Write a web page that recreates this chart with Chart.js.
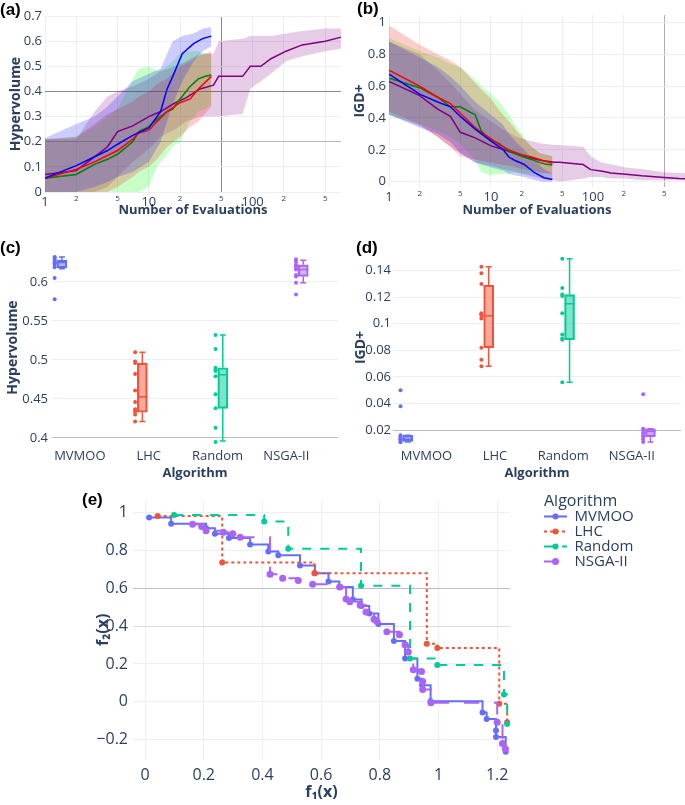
<!DOCTYPE html>
<html>
<head>
<meta charset="utf-8">
<script src="https://cdn.jsdelivr.net/npm/chart.js@4.4.1/dist/chart.umd.min.js"></script>
<style>
  html, body { margin: 0; padding: 0; background: #fff; }
  #wrap { position: relative; width: 685px; height: 805px; overflow: hidden; }
  canvas { position: absolute; }
  .tag { position: absolute; font: bold 17px 'Liberation Sans', Arial, sans-serif; line-height: 17px; color: #000; }
</style>
</head>
<body>
<div id="wrap">
  <canvas id="hvTrace" width="342" height="222" style="left:0;top:0"></canvas>
  <canvas id="igdTrace" width="343" height="222" style="left:342px;top:0"></canvas>
  <canvas id="hvBox" width="342" height="256" style="left:0;top:226px"></canvas>
  <canvas id="igdBox" width="343" height="256" style="left:342px;top:226px"></canvas>
  <canvas id="front" width="685" height="320" style="left:0;top:485px"></canvas>
  <div class="tag" style="left:0;top:1px">(a)</div>
  <div class="tag" style="left:357px;top:0">(b)</div>
  <div class="tag" style="left:0;top:239px">(c)</div>
  <div class="tag" style="left:356px;top:239px">(d)</div>
  <div class="tag" style="left:82px;top:491px">(e)</div>
</div>
<script>
// =================== data ===================
const ALGORITHMS = ['MVMOO', 'LHC', 'Random', 'NSGA-II'];

// (a)/(b) convergence: evaluation counts per algorithm
const MVMOO_N = [1, 2, 3, 4, 5, 7, 10, 13, 15, 17, 21, 27, 33, 40];
const LHC_N = [1, 2, 3, 4, 5, 7, 8, 10, 12, 15, 20, 25, 30, 40];
const RANDOM_N = [1, 2, 3, 4, 5, 7, 8, 10, 12, 15, 17, 20, 25, 30, 35, 40];
const NSGA_N = [1, 2, 3, 4, 5, 7, 10, 13, 18, 23, 31, 42, 47, 80, 95, 120, 150, 210, 300, 500, 700, 1000];

// hypervolume mean / lower / upper
const HV_MVMOO = [0.055, 0.105, 0.14, 0.165, 0.19, 0.225, 0.255, 0.32, 0.41, 0.46, 0.55, 0.59, 0.61, 0.62];
const HV_MVMOO_LO = [0, 0, 0.02, 0.04, 0.06, 0.08, 0.12, 0.2, 0.28, 0.35, 0.44, 0.52, 0.56, 0.58];
const HV_MVMOO_HI = [0.215, 0.27, 0.3, 0.34, 0.38, 0.44, 0.47, 0.49, 0.55, 0.6, 0.62, 0.63, 0.65, 0.655];
const HV_LHC = [0.055, 0.09, 0.12, 0.145, 0.165, 0.21, 0.235, 0.245, 0.28, 0.32, 0.355, 0.37, 0.41, 0.46];
const HV_LHC_LO = [0, 0, 0, 0, 0.02, 0.06, 0.08, 0.1, 0.13, 0.18, 0.22, 0.26, 0.28, 0.34];
const HV_LHC_HI = [0.21, 0.22, 0.27, 0.31, 0.33, 0.36, 0.38, 0.4, 0.43, 0.45, 0.5, 0.52, 0.54, 0.56];
const HV_RANDOM = [0.055, 0.07, 0.11, 0.13, 0.15, 0.2, 0.24, 0.26, 0.29, 0.32, 0.33, 0.37, 0.42, 0.45, 0.46, 0.465];
const HV_RANDOM_LO = [0, 0, 0, 0, 0, 0, 0, 0.02, 0.1, 0.15, 0.18, 0.2, 0.28, 0.32, 0.33, 0.35];
const HV_RANDOM_HI = [0.21, 0.22, 0.26, 0.3, 0.33, 0.45, 0.49, 0.5, 0.48, 0.5, 0.52, 0.55, 0.56, 0.56, 0.55, 0.55];
const HV_NSGA = [0.07, 0.085, 0.14, 0.18, 0.24, 0.263, 0.3, 0.32, 0.355, 0.375, 0.41, 0.425, 0.46, 0.46, 0.5, 0.5, 0.53, 0.56, 0.585, 0.6, 0.615, 0.63];
const HV_NSGA_LO = [0, 0, 0, 0.02, 0.06, 0.12, 0.17, 0.22, 0.25, 0.28, 0.3, 0.3, 0.3, 0.31, 0.41, 0.44, 0.47, 0.52, 0.54, 0.56, 0.57, 0.58];
const HV_NSGA_HI = [0.21, 0.21, 0.32, 0.38, 0.4, 0.42, 0.45, 0.48, 0.5, 0.52, 0.55, 0.55, 0.6, 0.61, 0.62, 0.62, 0.62, 0.63, 0.64, 0.65, 0.65, 0.65];

// IGD+ mean / lower / upper
const IGD_MVMOO = [0.675, 0.55, 0.5, 0.47, 0.41, 0.33, 0.255, 0.205, 0.155, 0.135, 0.11, 0.055, 0.025, 0.014];
const IGD_MVMOO_LO = [0.42, 0.34, 0.3, 0.25, 0.18, 0.12, 0.09, 0.07, 0.05, 0.04, 0.03, 0.01, 0, 0];
const IGD_MVMOO_HI = [0.88, 0.78, 0.72, 0.66, 0.6, 0.5, 0.42, 0.36, 0.3, 0.26, 0.2, 0.13, 0.08, 0.05];
const IGD_LHC = [0.7, 0.6, 0.53, 0.49, 0.43, 0.34, 0.31, 0.27, 0.235, 0.2, 0.17, 0.155, 0.14, 0.115];
const IGD_LHC_LO = [0.44, 0.36, 0.28, 0.22, 0.16, 0.14, 0.13, 0.12, 0.11, 0.1, 0.08, 0.07, 0.06, 0.05];
const IGD_LHC_HI = [0.98, 0.86, 0.8, 0.76, 0.72, 0.62, 0.58, 0.52, 0.45, 0.38, 0.28, 0.22, 0.18, 0.16];
const IGD_RANDOM = [0.65, 0.59, 0.53, 0.47, 0.47, 0.42, 0.32, 0.26, 0.24, 0.19, 0.18, 0.16, 0.14, 0.12, 0.11, 0.105];
const IGD_RANDOM_LO = [0.42, 0.36, 0.32, 0.28, 0.24, 0.14, 0.06, 0.04, 0.05, 0.05, 0.06, 0.05, 0.05, 0.05, 0.05, 0.05];
const IGD_RANDOM_HI = [0.9, 0.82, 0.78, 0.74, 0.72, 0.64, 0.6, 0.55, 0.5, 0.42, 0.36, 0.3, 0.22, 0.18, 0.17, 0.16];
const IGD_NSGA = [0.63, 0.54, 0.455, 0.41, 0.31, 0.275, 0.225, 0.204, 0.173, 0.153, 0.133, 0.122, 0.122, 0.108, 0.076, 0.067, 0.055, 0.047, 0.037, 0.027, 0.02, 0.016];
const IGD_NSGA_LO = [0.42, 0.35, 0.28, 0.22, 0.18, 0.12, 0.1, 0.08, 0.06, 0.04, 0.02, 0.01, 0, 0.02, 0.03, 0.03, 0.02, 0.02, 0.01, 0.01, 0.01, 0.01];
const IGD_NSGA_HI = [0.88, 0.8, 0.7, 0.62, 0.55, 0.45, 0.38, 0.33, 0.28, 0.26, 0.24, 0.23, 0.23, 0.22, 0.16, 0.12, 0.11, 0.09, 0.08, 0.06, 0.055, 0.05];

const LOG_TICKS = [1, 2, 5, 10, 20, 50, 100, 200, 500];
const LOG_TICK_LABELS = ['1', '2', '5', '10', '2', '5', '100', '2', '5'];

// (c) final hypervolume per run, and box statistics
const HV_RUNS = [
  [0.632, 0.631, 0.629, 0.627, 0.625, 0.624, 0.622, 0.619, 0.605, 0.578],
  [0.51, 0.498, 0.496, 0.482, 0.461, 0.446, 0.437, 0.434, 0.43, 0.421],
  [0.532, 0.514, 0.49, 0.488, 0.486, 0.479, 0.456, 0.438, 0.413, 0.395],
  [0.629, 0.626, 0.622, 0.62, 0.617, 0.616, 0.609, 0.607, 0.599, 0.584]
];
const HV_Q1 = [0.618, 0.433, 0.438, 0.607];
const HV_MED = [0.625, 0.453, 0.481, 0.616];
const HV_Q3 = [0.628, 0.496, 0.49, 0.622];
const HV_LOW = [0.617, 0.421, 0.396, 0.599];
const HV_HIGH = [0.632, 0.51, 0.532, 0.628];

// (d) final IGD+ per run, and box statistics
const IGD_RUNS = [
  [0.05, 0.038, 0.016, 0.015, 0.014, 0.013, 0.013, 0.012, 0.011, 0.011],
  [0.143, 0.138, 0.13, 0.108, 0.107, 0.106, 0.104, 0.082, 0.073, 0.068],
  [0.149, 0.127, 0.122, 0.121, 0.108, 0.092, 0.089, 0.088, 0.056],
  [0.047, 0.021, 0.02, 0.018, 0.016, 0.015, 0.013, 0.011]
];
const IGD_Q1 = [0.0115, 0.082, 0.088, 0.015];
const IGD_MED = [0.013, 0.106, 0.115, 0.019];
const IGD_Q3 = [0.016, 0.129, 0.122, 0.021];
const IGD_LOW = [0.011, 0.068, 0.056, 0.011];
const IGD_HIGH = [0.016, 0.143, 0.149, 0.021];

// (e) Pareto fronts
const F1_MVMOO = [0.014, 0.089, 0.208, 0.238, 0.286, 0.358, 0.42, 0.454, 0.528, 0.579, 0.625, 0.662, 0.708, 0.738, 0.764, 0.795, 0.848, 0.886, 0.928, 0.944, 0.973, 1.15, 1.164, 1.196, 1.196, 1.229];
const F2_MVMOO = [0.974, 0.941, 0.917, 0.889, 0.866, 0.832, 0.795, 0.775, 0.72, 0.68, 0.636, 0.607, 0.541, 0.506, 0.467, 0.411, 0.321, 0.229, 0.122, 0.087, 0.003, -0.057, -0.091, -0.152, -0.186, -0.264];
const F1_LHC = [0.043, 0.263, 0.577, 0.96, 0.996, 1.207, 1.234];
const F2_LHC = [0.982, 0.737, 0.68, 0.307, 0.285, -0.01, -0.108];
const F1_RANDOM = [0.099, 0.406, 0.488, 0.736, 0.903, 0.996, 1.223, 1.234];
const F2_RANDOM = [0.988, 0.953, 0.809, 0.614, 0.229, 0.195, 0.039, -0.117];
const F1_NSGA = [0.162, 0.193, 0.208, 0.267, 0.299, 0.324, 0.426, 0.469, 0.522, 0.571, 0.664, 0.685, 0.698, 0.733, 0.753, 0.78, 0.79, 0.824, 0.867, 0.886, 0.897, 0.914, 0.942, 0.946, 0.946, 0.974, 1.2, 1.218, 1.228];
const F2_NSGA = [0.939, 0.927, 0.904, 0.896, 0.889, 0.87, 0.674, 0.653, 0.641, 0.622, 0.607, 0.544, 0.529, 0.51, 0.475, 0.437, 0.424, 0.371, 0.355, 0.302, 0.264, 0.169, 0.16, 0.108, 0.065, -0.005, -0.108, -0.22, -0.25];

// =================== styles ===================
const INK = '#2a3f5f';
const GRID = '#ebf0f8';
const COLORS = ['#636efa', '#ef553b', '#00cc96', '#ab63fa'];
const BOX_FILL = ['rgba(99,110,250,0.5)', 'rgba(239,85,59,0.5)', 'rgba(0,204,150,0.5)', 'rgba(171,99,250,0.5)'];
const TRACE_LINE = ['blue', 'red', 'green', 'purple'];
const TRACE_BAND = ['rgba(0,0,255,0.2)', 'rgba(255,0,0,0.2)', 'rgba(0,255,0,0.22)', 'rgba(128,0,128,0.2)'];
const FRONT_DASH = [[], [3, 3], [9, 9], [15, 15]];
const FRONT_RADIUS = [3, 3, 3, 3.5];

Chart.defaults.font.family = "'Open Sans', sans-serif";
Chart.defaults.color = INK;

// =================== helpers ===================
function pts(xs, ys) {
    return xs.map((x, i) => ({x: x, y: ys[i]}));
}

function fmt(v) {
    const r = +v.toFixed(3);
    return r < 0 ? '\u2212' + Math.abs(r) : String(r);
}

function near(a, b) {
    return Math.abs(a - b) < 1e-6;
}

// mean line + shaded band per algorithm, log x axis
function traceChart(id, series, o) {
    const datasets = [];
    series.forEach((s, i) => {
        datasets.push({data: pts(s.n, s.mean), borderColor: TRACE_LINE[i], borderWidth: 1.5, pointRadius: 0, fill: false});
    });
    series.forEach((s, i) => {
        datasets.push({data: pts(s.n, s.hi), borderWidth: 0, pointRadius: 0, fill: false});
        datasets.push({data: pts(s.n, s.lo), borderWidth: 0, pointRadius: 0, fill: '-1', backgroundColor: TRACE_BAND[i]});
    });
    return new Chart(document.getElementById(id), {
        type: 'line',
        data: {datasets: datasets},
        options: {
            responsive: false,
            animation: false,
            events: [],
            layout: {padding: o.pad},
            plugins: {
                legend: {display: false},
                tooltip: {enabled: false},
                filler: {drawTime: 'beforeDatasetsDraw'}
            },
            scales: {
                x: {
                    type: 'logarithmic',
                    min: 1,
                    max: o.xMax,
                    afterBuildTicks: s => { s.ticks = LOG_TICKS.map(v => ({value: v})); },
                    afterFit: s => { s.height = o.xH; },
                    border: {display: false},
                    grid: {drawTicks: false, color: c => (c.tick && o.xDark[c.tick.value]) || GRID},
                    ticks: {
                        autoSkip: false, maxRotation: 0, padding: 2, color: INK,
                        callback: (v, i) => LOG_TICK_LABELS[i],
                        font: c => ({size: c.index % 3 === 0 ? 13 : 8})
                    },
                    title: {display: true, text: 'Number of Evaluations', color: INK,
                        font: {size: 13, weight: 'bold'}, padding: {top: 0, bottom: 4}}
                },
                y: {
                    min: o.yMin,
                    max: o.yMax,
                    afterFit: s => { s.width = o.yW; },
                    border: {display: false},
                    grid: {drawTicks: false, color: c => {
                        const v = c.tick ? c.tick.value : NaN;
                        for (const k in o.yDark) { if (near(v, +k)) return o.yDark[k]; }
                        return GRID;
                    }},
                    ticks: {stepSize: o.yStep, includeBounds: false, padding: 3, color: INK, font: {size: 13}, callback: fmt},
                    title: {display: true, text: o.yTitle, color: INK,
                        font: {size: 14, weight: 'bold'}, padding: {top: 4, bottom: 0}}
                }
            }
        }
    });
}

// median, whiskers and caps for the box charts
function whiskers(q1, med, q3, lo, hi) {
    return {
        id: 'whiskers',
        afterDatasetsDraw(chart) {
            const ctx = chart.ctx;
            const xs = chart.scales.xb;
            const ys = chart.scales.y;
            ctx.save();
            ctx.lineWidth = 1.5;
            q1.forEach((v, i) => {
                const x = xs.getPixelForValue(i);
                ctx.strokeStyle = COLORS[i];
                ctx.beginPath();
                const m = ys.getPixelForValue(med[i]);
                ctx.moveTo(x - 5, m); ctx.lineTo(x + 5, m);
                const t = ys.getPixelForValue(hi[i]);
                const b = ys.getPixelForValue(lo[i]);
                ctx.moveTo(x, ys.getPixelForValue(q3[i])); ctx.lineTo(x, t);
                ctx.moveTo(x, ys.getPixelForValue(v)); ctx.lineTo(x, b);
                ctx.moveTo(x - 3, t); ctx.lineTo(x + 3, t);
                ctx.moveTo(x - 3, b); ctx.lineTo(x + 3, b);
                ctx.stroke();
            });
            ctx.restore();
        }
    };
}

function boxChart(id, runs, q1, med, q3, lo, hi, o) {
    const datasets = [{
        type: 'bar',
        xAxisID: 'xb',
        data: ALGORITHMS.map((a, i) => ({x: i, y: [q1[i], q3[i]]})),
        backgroundColor: BOX_FILL,
        borderColor: COLORS,
        borderWidth: 1.5,
        borderSkipped: false,
        barThickness: 10
    }];
    runs.forEach((r, i) => {
        datasets.push({
            type: 'scatter',
            xAxisID: 'xb',
            data: r.map(v => ({x: i - 0.09, y: v})),
            pointRadius: 2,
            pointBorderWidth: 0,
            backgroundColor: COLORS[i]
        });
    });
    return new Chart(document.getElementById(id), {
        type: 'bar',
        data: {datasets: datasets},
        plugins: [whiskers(q1, med, q3, lo, hi)],
        options: {
            responsive: false,
            animation: false,
            events: [],
            layout: {padding: o.pad},
            plugins: {legend: {display: false}, tooltip: {enabled: false}},
            scales: {
                x: {
                    type: 'linear',
                    offset: false,
                    min: o.labMin,
                    max: o.labMax,
                    afterFit: s => { s.height = o.xH; },
                    border: {display: false},
                    grid: {display: false, drawTicks: false},
                    ticks: {stepSize: 1, includeBounds: false, autoSkip: false, maxRotation: 0, padding: 4,
                        color: INK, font: {size: 13}, callback: v => ALGORITHMS[Math.round(v)] || ''},
                    title: {display: true, text: 'Algorithm', color: INK,
                        font: {size: 13, weight: 'bold'}, padding: {top: 0, bottom: 1}}
                },
                xb: {type: 'linear', offset: false, display: false, min: o.boxMin, max: o.boxMax},
                y: {
                    min: o.yMin,
                    max: o.yMax,
                    afterFit: s => { s.width = o.yW; },
                    border: {display: false},
                    grid: {drawTicks: false, color: c => (c.tick && near(c.tick.value, o.yDark)) ? '#bdbdbd' : GRID},
                    ticks: {stepSize: o.yStep, includeBounds: false, padding: o.tickPad, color: INK, font: {size: 13}, callback: fmt},
                    title: {display: true, text: o.yTitle, color: INK,
                        font: {size: 14, weight: 'bold'}, padding: {top: o.titlePad, bottom: 0}}
                }
            }
        }
    });
}

// dot in the middle of each legend line sample
const legendDots = {
    id: 'legendDots',
    afterDraw(chart) {
        const lg = chart.legend;
        const ctx = chart.ctx;
        ctx.save();
        lg.legendHitBoxes.forEach((hb, i) => {
            const k = lg.legendItems[i].datasetIndex;
            ctx.fillStyle = COLORS[k];
            ctx.beginPath();
            ctx.arc(hb.left + 11.5, hb.top + hb.height / 2, FRONT_RADIUS[k], 0, Math.PI * 2);
            ctx.fill();
        });
        ctx.restore();
    }
};

// =================== charts ===================
traceChart('hvTrace', [
    {n: MVMOO_N, mean: HV_MVMOO, lo: HV_MVMOO_LO, hi: HV_MVMOO_HI},
    {n: LHC_N, mean: HV_LHC, lo: HV_LHC_LO, hi: HV_LHC_HI},
    {n: RANDOM_N, mean: HV_RANDOM, lo: HV_RANDOM_LO, hi: HV_RANDOM_HI},
    {n: NSGA_N, mean: HV_NSGA, lo: HV_NSGA_LO, hi: HV_NSGA_HI}
], {
    pad: {left: 4, right: 1, top: 16, bottom: 0}, xMax: 710, xH: 30, yW: 41,
    yMin: 0, yMax: 0.7, yStep: 0.1, yTitle: 'Hypervolume',
    xDark: {50: '#8a8a8a'}, yDark: {0.4: '#8a8a8a', 0.2: '#b8b8b8'}
});

traceChart('igdTrace', [
    {n: MVMOO_N, mean: IGD_MVMOO, lo: IGD_MVMOO_LO, hi: IGD_MVMOO_HI},
    {n: LHC_N, mean: IGD_LHC, lo: IGD_LHC_LO, hi: IGD_LHC_HI},
    {n: RANDOM_N, mean: IGD_RANDOM, lo: IGD_RANDOM_LO, hi: IGD_RANDOM_HI},
    {n: NSGA_N, mean: IGD_NSGA, lo: IGD_NSGA_LO, hi: IGD_NSGA_HI}
], {
    pad: {left: 6, right: 0, top: 15, bottom: 0}, xMax: 798, xH: 35, yW: 41,
    yMin: -0.033, yMax: 1.046, yStep: 0.2, yTitle: 'IGD+',
    xDark: {500: '#b0b0b0'}, yDark: {}
});

boxChart('hvBox', HV_RUNS, HV_Q1, HV_MED, HV_Q3, HV_LOW, HV_HIGH, {
    pad: {left: 2, right: 2, top: 25, bottom: 0}, xH: 38, yW: 50,
    labMin: -0.404, labMax: 3.75, boxMin: -0.123, boxMax: 3.432,
    yMin: 0.3923, yMax: 0.6397, yStep: 0.05, yDark: 0.4,
    tickPad: 4, titlePad: 3, yTitle: 'Hypervolume'
});

boxChart('igdBox', IGD_RUNS, IGD_Q1, IGD_MED, IGD_Q3, IGD_LOW, IGD_HIGH, {
    pad: {left: 7, right: 0, top: 25, bottom: 0}, xH: 38, yW: 44,
    labMin: -0.49, labMax: 3.72, boxMin: -0.183, boxMax: 3.378,
    yMin: 0.0095, yMax: 0.1548, yStep: 0.02, yDark: 0.02,
    tickPad: 2, titlePad: 4, yTitle: 'IGD+'
});

const fronts = [
    {f1: F1_MVMOO, f2: F2_MVMOO},
    {f1: F1_LHC, f2: F2_LHC},
    {f1: F1_RANDOM, f2: F2_RANDOM},
    {f1: F1_NSGA, f2: F2_NSGA}
];

new Chart(document.getElementById('front'), {
    type: 'scatter',
    data: {
        datasets: fronts.map((f, i) => ({
            label: ALGORITHMS[i],
            data: pts(f.f1, f.f2),
            showLine: true,
            stepped: 'before',
            borderColor: COLORS[i],
            backgroundColor: COLORS[i],
            borderWidth: 2,
            borderDash: FRONT_DASH[i],
            pointRadius: FRONT_RADIUS[i],
            pointBorderWidth: 0,
            order: 4 - i
        }))
    },
    plugins: [legendDots],
    options: {
        responsive: false,
        animation: false,
        events: [],
        layout: {padding: {left: 90, right: 51, top: 10, bottom: 0}},
        plugins: {
            tooltip: {enabled: false},
            legend: {
                position: 'right',
                align: 'start',
                maxWidth: 90,
                title: {display: true, text: 'Algorithm', color: INK, position: 'start',
                    font: {size: 16, lineHeight: 1}, padding: {top: -2, bottom: 0}},
                labels: {
                    usePointStyle: true, pointStyleWidth: 23,
                    color: INK, font: {size: 15}, padding: 0,
                    generateLabels: chart => chart.data.datasets.map((d, i) => ({
                        text: d.label,
                        datasetIndex: i,
                        fillStyle: COLORS[i],
                        strokeStyle: COLORS[i],
                        fontColor: INK,
                        lineWidth: 2,
                        lineDash: FRONT_DASH[i],
                        pointStyle: 'line',
                        hidden: false
                    }))
                }
            }
        },
        scales: {
            x: {
                type: 'linear',
                min: -0.041,
                max: 1.2436,
                afterFit: s => { s.height = 45; },
                border: {display: false},
                grid: {drawTicks: false, color: GRID},
                ticks: {stepSize: 0.2, includeBounds: false, padding: 6, color: INK, font: {size: 16}, callback: fmt},
                title: {display: true, text: 'f\u2081(x)', color: INK,
                    font: {size: 16, weight: 'bold'}, padding: {top: 0, bottom: 3}}
            },
            y: {
                min: -0.3075,
                max: 1.069,
                afterFit: s => { s.width = 43; },
                border: {display: false},
                grid: {drawTicks: false, color: c => {
                    const v = c.tick ? c.tick.value : NaN;
                    if (near(v, 0.6)) return '#bdbdbd';
                    if (near(v, 0.4)) return '#dedede';
                    return GRID;
                }},
                ticks: {stepSize: 0.2, includeBounds: false, padding: 5, color: INK, font: {size: 16}, callback: fmt},
                title: {display: true, text: 'f\u2082(x)', color: INK,
                    font: {size: 16, weight: 'bold'}, padding: {top: 4, bottom: 0}}
            },
            pad: {
                type: 'linear',
                position: 'right',
                afterFit: s => { s.width = 34; },
                border: {display: false},
                grid: {display: false},
                ticks: {display: false}
            }
        }
    }
});
</script>
</body>
</html>
